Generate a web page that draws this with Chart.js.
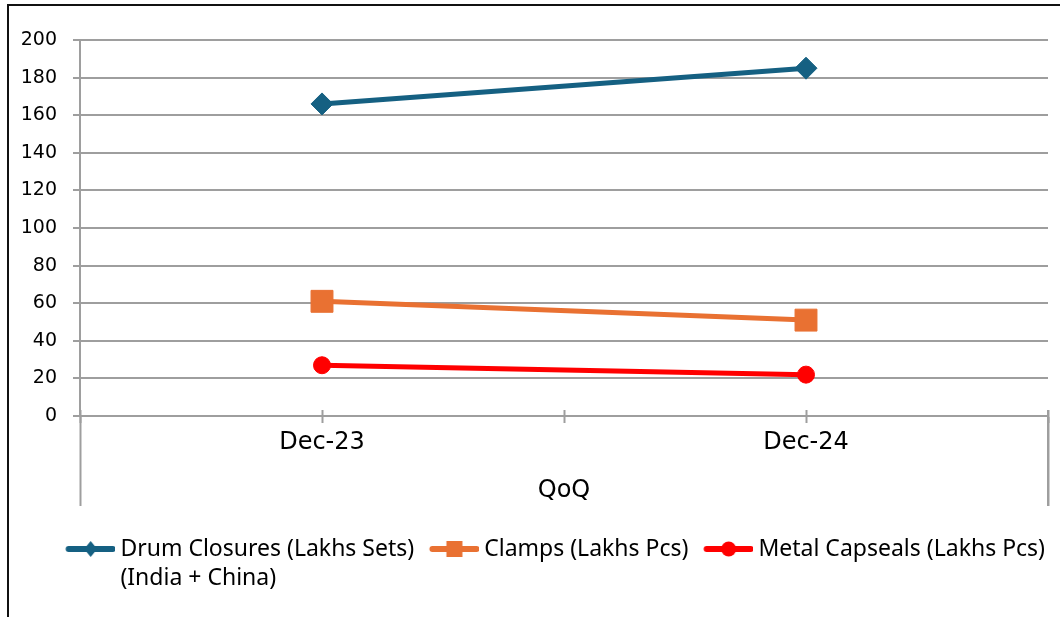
<!DOCTYPE html>
<html><head><meta charset="utf-8">
<script src="https://cdn.jsdelivr.net/npm/chart.js@4.4.1/dist/chart.umd.min.js"></script>
<style>
html,body{margin:0;padding:0;background:#fff;}
#wrap{position:relative;width:1060px;height:617px;overflow:hidden;background:#fff;}
#frame{position:absolute;left:7px;top:4px;right:0;bottom:0;border-left:2px solid #111;border-top:2px solid #111;pointer-events:none;}
canvas{position:absolute;left:0;top:0;}
</style></head><body>
<div id="wrap"><canvas id="c" width="1060" height="617"></canvas><div id="frame"></div></div>
<script>
// ---- data ----
const categories = ['Dec-23', 'Dec-24'];
const seriesNames = ['Drum Closures (Lakhs Sets)', 'Clamps (Lakhs Pcs)', 'Metal Capseals (Lakhs Pcs)'];
const seriesNote = '(India + China)';
const drumClosures = [166, 185];
const clamps = [61, 51];
const metalCapseals = [27, 22];
const yMin = 0, yMax = 200, yStep = 20;
const xAxisTitle = 'QoQ';

// ---- styles ----
const gray = '#9e9e9e';
const clear = 'rgba(0,0,0,0)';
const colors = ['#156082', '#E97132', '#FF0000'];
const legendFontSize = 23;
const legendBoxW = 43.5;
const iconShift = 6.5;
const longTick = 90;

function legendIcon(color, shape) {
  const c = document.createElement('canvas');
  c.width = 50 + iconShift; c.height = 24;
  const g = c.getContext('2d');
  g.translate(iconShift, 0);
  g.strokeStyle = color; g.fillStyle = color; g.lineWidth = 6; g.lineCap = 'round';
  g.beginPath(); g.moveTo(3, 12); g.lineTo(47, 12); g.stroke();
  g.beginPath();
  if (shape === 'diamond') { g.moveTo(25, 4); g.lineTo(31.5, 12); g.lineTo(25, 20); g.lineTo(18.5, 12); g.closePath(); }
  else if (shape === 'square') { g.rect(17, 4, 16, 16); }
  else { g.arc(25, 12, 7.5, 0, Math.PI * 2); }
  g.fill();
  return c;
}
const icons = [legendIcon(colors[0], 'diamond'), legendIcon(colors[1], 'square'), legendIcon(colors[2], 'circle')];

const noteLine = {
  id: 'noteLine',
  afterDraw(chart) {
    const lg = chart.legend;
    if (!lg || !lg.legendHitBoxes || !lg.legendHitBoxes.length) return;
    const hb = lg.legendHitBoxes[0];
    const ctx = chart.ctx;
    ctx.save();
    ctx.font = legendFontSize + 'px "Noto Sans"';
    ctx.fillStyle = '#000'; ctx.textBaseline = 'middle'; ctx.textAlign = 'left';
    ctx.fillText(seriesNote, hb.left + legendBoxW + legendFontSize / 2, hb.top + hb.height / 2 + 29);
    ctx.restore();
  }
};

// right-hand drop line of the category axis (mirrors the left one drawn by the axis)
const axisEndLine = {
  id: 'axisEndLine',
  afterDraw(chart) {
    const s = chart.scales.x;
    if (!s) return;
    const ctx = chart.ctx;
    const x = Math.round(s.right);
    ctx.save();
    ctx.strokeStyle = gray; ctx.lineWidth = 2;
    ctx.beginPath();
    ctx.moveTo(x, s.top - 6);
    ctx.lineTo(x, s.top + longTick);
    ctx.stroke();
    ctx.restore();
  }
};

function tickAxis(yPos, len, gridOffset) {
  return {
    type: 'category', axis: 'x', offset: true, position: { y: yPos },
    grid: { display: true, offset: gridOffset, drawOnChartArea: false, drawTicks: true, tickLength: len, tickWidth: 2, tickColor: gray },
    border: { display: false },
    ticks: { display: false }
  };
}

new Chart(document.getElementById('c'), {
  type: 'line',
  data: {
    labels: categories,
    datasets: [
      { label: seriesNames[0], data: drumClosures, borderColor: colors[0], backgroundColor: colors[0],
        borderWidth: 5, pointStyle: 'rectRot', pointRadius: 11, pointBorderWidth: 1,
        pointBackgroundColor: colors[0], pointBorderColor: colors[0], xAxisID: 'x', yAxisID: 'y' },
      { label: seriesNames[1], data: clamps, borderColor: colors[1], backgroundColor: colors[1],
        borderWidth: 5, pointStyle: 'rect', pointRadius: 15.5, pointBorderWidth: 1,
        pointBackgroundColor: colors[1], pointBorderColor: colors[1], xAxisID: 'x', yAxisID: 'y' },
      { label: seriesNames[2], data: metalCapseals, borderColor: colors[2], backgroundColor: colors[2],
        borderWidth: 5, pointStyle: 'circle', pointRadius: 8.5, pointBorderWidth: 1,
        pointBackgroundColor: colors[2], pointBorderColor: colors[2], xAxisID: 'x', yAxisID: 'y' }
    ]
  },
  options: {
    responsive: false, animation: false, devicePixelRatio: 1,
    layout: { autoPadding: false, padding: { left: 0, top: 40, right: 0, bottom: 46.5 } },
    elements: { line: { tension: 0, borderCapStyle: 'round', borderJoinStyle: 'round' } },
    scales: {
      x: {
        type: 'category', offset: true, position: 'bottom',
        grid: { display: true, offset: true, drawOnChartArea: false, drawTicks: true, tickLength: longTick, tickWidth: 2,
                tickColor: (c) => c.index === 1 ? clear : gray },
        border: { display: true, color: gray, width: 2 },
        ticks: { font: { family: 'DejaVu Sans', size: 24 }, color: '#000', padding: 12 - longTick, maxRotation: 0, autoSkip: false },
        title: { display: true, text: xAxisTitle, font: { family: 'DejaVu Sans', size: 24 }, color: '#000', padding: { top: 4, bottom: 17 } },
        afterFit(s) { s.height = 106.5; }
      },
      // short crossing tick marks at category boundaries and centres
      xTickB: tickAxis(3.2, 13, true),
      xTickC: tickAxis(3.2, 13, false),
      y: {
        type: 'linear', position: 'left', min: yMin, max: yMax,
        grid: { color: gray, lineWidth: 2, tickLength: 7, tickColor: gray, tickWidth: 2 },
        border: { display: true, color: gray, width: 2 },
        ticks: { stepSize: yStep, font: { family: 'DejaVu Sans', size: 19 }, color: '#000', padding: 16 },
        afterFit(s) { s.width = 80; }
      },
      yRight: {
        type: 'linear', axis: 'y', position: 'right',
        grid: { display: false, drawTicks: false }, border: { display: false }, ticks: { display: false },
        afterFit(s) { s.width = 12; }
      }
    },
    plugins: {
      tooltip: { enabled: false },
      legend: {
        position: 'bottom', align: 'end', fullSize: true,
        labels: {
          font: { family: 'Noto Sans', size: legendFontSize }, color: '#000',
          usePointStyle: true, pointStyleWidth: legendBoxW, padding: 15,
          generateLabels(chart) {
            return chart.data.datasets.map((ds, i) => ({
              text: ds.label, fillStyle: colors[i], strokeStyle: colors[i], lineWidth: 0,
              pointStyle: icons[i], hidden: false, datasetIndex: i, fontColor: '#000'
            }));
          }
        }
      }
    }
  },
  plugins: [noteLine, axisEndLine]
});
</script>
</body></html>
